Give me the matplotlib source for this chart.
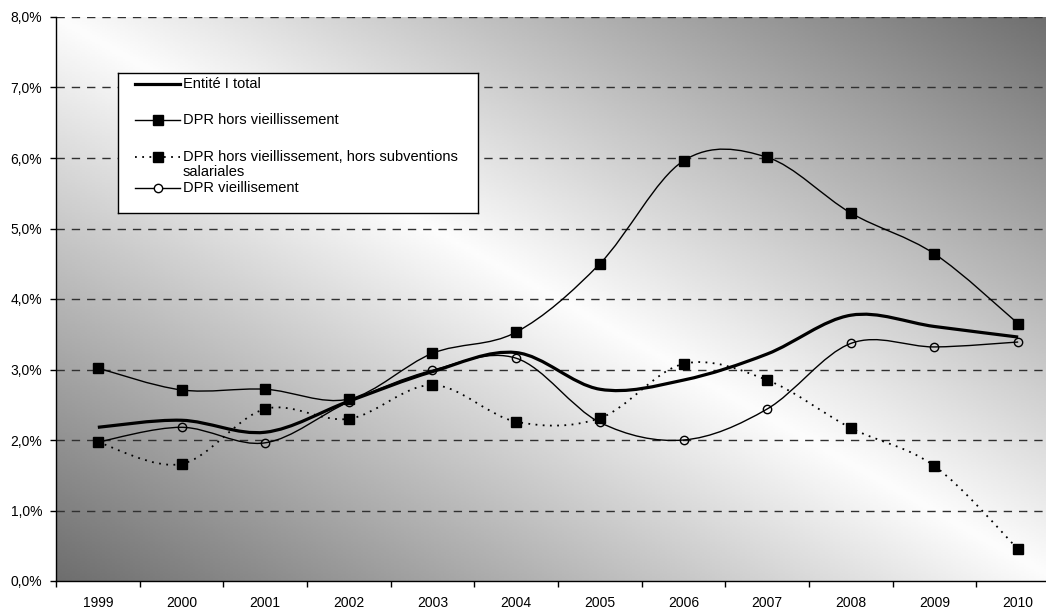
import numpy as np
import matplotlib
matplotlib.use("Agg")
import matplotlib.pyplot as plt
from matplotlib.path import Path
from matplotlib.patches import PathPatch
from matplotlib.lines import Line2D
from matplotlib.ticker import FixedLocator, FuncFormatter

plt.rcParams['font.family'] = ['Liberation Sans', 'DejaVu Sans']

years = ['1999', '2000', '2001', '2002', '2003', '2004', '2005',
         '2006', '2007', '2008', '2009', '2010']
entite_total = [2.18, 2.28, 2.11, 2.55, 2.97, 3.24, 2.72, 2.85, 3.22, 3.77, 3.61, 3.46]
dpr_hors_vieil = [3.02, 2.71, 2.72, 2.58, 3.23, 3.53, 4.50, 5.96, 6.01, 5.22, 4.64, 3.65]
dpr_hors_subv = [1.97, 1.66, 2.44, 2.30, 2.78, 2.26, 2.31, 3.08, 2.85, 2.17, 1.63, 0.45]
dpr_vieil = [1.97, 2.18, 1.96, 2.54, 2.99, 3.16, 2.25, 2.00, 2.44, 3.37, 3.32, 3.39]

legend_labels = ['Entité I total', 'DPR hors vieillissement',
                 'DPR hors vieillissement, hors subventions\nsalariales',
                 'DPR vieillisement']


def smooth_path(x, y):
    # Excel-like smoothed line: cubic Bezier segments (Catmull-Rom control points)
    pts = np.column_stack([x, y]).astype(float)
    n = len(pts)
    verts = [pts[0]]
    codes = [Path.MOVETO]
    for i in range(n - 1):
        p0 = pts[i - 1] if i > 0 else pts[i]
        p1 = pts[i]
        p2 = pts[i + 1]
        p3 = pts[i + 2] if i + 2 < n else pts[i + 1]
        c1 = p1 + (p2 - p0) / 6.0
        c2 = p2 - (p3 - p1) / 6.0
        verts += [c1, c2, p2]
        codes += [Path.CURVE4] * 3
    return Path(verts, codes)


fig = plt.figure(figsize=(10.46, 6.07), dpi=100)
W, H = 1046.0, 607.0
ax = fig.add_axes([56 / W, (H - 581) / H, (1060 - 56) / W, (581 - 17) / H])

# gradient background
gx = np.linspace(0, 1, 400)
gy = np.linspace(0, 1, 300)
GX, GY = np.meshgrid(gx, gy)
u = np.abs((GX - 0.5) + (GY - 0.5))
shade = 0.99 - (0.99 - 0.43) * u
ax.imshow(shade, cmap='gray', vmin=0, vmax=1, extent=(0, 1, 0, 1), origin='lower',
          transform=ax.transAxes, aspect='auto', zorder=0, interpolation='bilinear')

x = np.arange(len(years))
y1 = np.array(entite_total) / 100
y2 = np.array(dpr_hors_vieil) / 100
y3 = np.array(dpr_hors_subv) / 100
y4 = np.array(dpr_vieil) / 100

ax.set_xlim(-0.5, len(years) - 0.5)
ax.set_ylim(0, 0.08)

# grid
for v in np.arange(1, 9) / 100:
    ax.axhline(v, color='#303030', lw=1.0, ls=(0, (6, 5)), zorder=1)

ax.add_patch(PathPatch(smooth_path(x, y2), fill=False, lw=1.0, color='black', zorder=3))
ax.plot(x, y2, ls='none', marker='s', ms=6.5, color='black', zorder=4)

ax.add_patch(PathPatch(smooth_path(x, y3), fill=False, lw=1.3, color='black',
                       ls=(0, (1, 3)), zorder=3))
ax.plot(x, y3, ls='none', marker='s', ms=6.5, color='black', zorder=4)

ax.add_patch(PathPatch(smooth_path(x, y4), fill=False, lw=1.0, color='black', zorder=3))
ax.plot(x, y4, ls='none', marker='o', ms=6, mfc='none', mec='black', mew=1.0, zorder=4)

ax.add_patch(PathPatch(smooth_path(x, y1), fill=False, lw=2.3, color='black', zorder=3))

# axes styling
for side in ['top', 'right']:
    ax.spines[side].set_visible(False)
ax.spines['left'].set_linewidth(1.0)
ax.spines['bottom'].set_linewidth(1.0)

ax.yaxis.set_major_locator(FixedLocator(np.arange(0, 9) / 100))
ax.yaxis.set_major_formatter(FuncFormatter(lambda v, p: f"{v * 100:.1f}%".replace('.', ',')))
ax.tick_params(axis='y', direction='out', length=4, width=1, pad=6, labelsize=10)

ax.xaxis.set_major_locator(FixedLocator(np.arange(-0.5, len(years), 1.0)))
ax.xaxis.set_major_formatter(FuncFormatter(lambda v, p: ''))
ax.xaxis.set_minor_locator(FixedLocator(x))
ax.set_xticklabels(years, minor=True)
ax.tick_params(axis='x', which='major', direction='out', length=4, width=1)
ax.tick_params(axis='x', which='minor', length=0, pad=11, labelsize=10)

# legend box (drawn manually to keep Excel layout)
lg = fig.add_axes([118 / W, (H - 213) / H, 360 / W, 140 / H])
lg.set_xlim(0, 360)
lg.set_ylim(140, 0)
lg.set_xticks([])
lg.set_yticks([])
lg.set_facecolor('white')
for s in lg.spines.values():
    s.set_linewidth(1.0)
    s.set_color('black')

rows = [11, 47, 84, 115]
lg.add_line(Line2D([17, 62], [rows[0]] * 2, color='black', lw=2.3))
lg.add_line(Line2D([17, 62], [rows[1]] * 2, color='black', lw=1.0))
lg.plot([39.5], [rows[1]], marker='s', ms=6.5, color='black')
lg.add_line(Line2D([17, 62], [rows[2]] * 2, color='black', lw=1.3, ls=(0, (1, 3))))
lg.plot([39.5], [rows[2]], marker='s', ms=6.5, color='black')
lg.add_line(Line2D([17, 62], [rows[3]] * 2, color='black', lw=1.0))
lg.plot([39.5], [rows[3]], marker='o', ms=6, mfc='white', mec='black', mew=1.0)

for r, lab in zip(rows, legend_labels):
    for k, line in enumerate(lab.split('\n')):
        lg.text(65, r + 14.5 * k, line, fontsize=10.5, va='center', ha='left')

fig.savefig('out.png', dpi=100)
